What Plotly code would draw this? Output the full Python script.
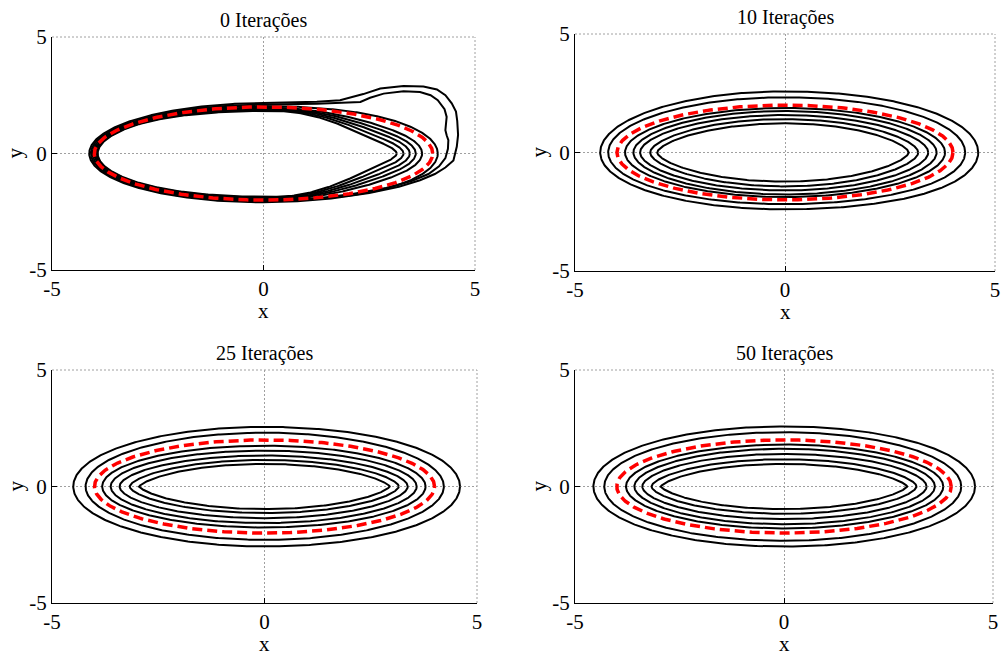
import numpy as np
import plotly.graph_objects as go

W, H = 1002, 657

# ---------------- data ----------------
TITLES = ["0 Iterações", "10 Iterações", "25 Iterações", "50 Iterações"]
TICKS = [-5, 0, 5]

# zero level (red dashed) : ellipse semi-axes
ELL_A, ELL_B = 4.0, 2.0

# Each black contour: right / left / top / bottom crossing of the axes
# panel 0 (initial function)
P0_RIGHT = [3.15, 3.31, 3.46, 3.60, 3.75, 4.12]
P0_LEFT = [-3.92, -3.94, -3.96, -3.98, -4.00, -4.04]
P0_TOP = [1.83, 1.87, 1.90, 1.94, 1.97, 2.04]
P0_BOTTOM = [-1.86, -1.89, -1.92, -1.95, -1.98, -2.04]

# panel 0 : two outer contours with a bump (right half, top -> bottom)
P0_BUMP_OUT_X = [0, 1.26, 1.81, 2.36, 2.76, 3.31, 3.78, 4.10, 4.30, 4.45, 4.55, 4.58, 4.60, 4.57, 4.49, 4.30, 4.05, 3.70, 3.20, 2.50, 1.60, 0.80, 0]
P0_BUMP_OUT_Y = [2.17, 2.22, 2.29, 2.55, 2.79, 2.90, 2.88, 2.75, 2.50, 2.15, 1.80, 1.40, 0.80, 0.30, -0.30, -0.60, -0.88, -1.15, -1.43, -1.70, -1.93, -2.05, -2.09]
P0_BUMP_OUT_LEFT, P0_BUMP_OUT_BOTTOM = -4.12, -2.09

P0_BUMP_IN_X = [0, 1.26, 1.81, 2.29, 2.52, 2.84, 3.31, 3.70, 3.95, 4.12, 4.28, 4.33, 4.30, 4.33, 4.37, 4.36, 4.30, 4.15, 3.90, 3.50, 2.90, 2.10, 1.30, 0.60, 0]
P0_BUMP_IN_Y = [2.10, 2.14, 2.17, 2.21, 2.39, 2.57, 2.67, 2.64, 2.50, 2.29, 1.90, 1.57, 1.00, 0.78, 0.57, 0.20, -0.20, -0.55, -0.88, -1.18, -1.48, -1.74, -1.92, -2.02, -2.06]
P0_BUMP_IN_LEFT, P0_BUMP_IN_BOTTOM = -4.08, -2.06

# panel 10 iterations
P1_RIGHT = [2.94, 3.17, 3.41, 3.61, 3.81, 4.29, 4.60]
P1_LEFT = [-3.04, -3.21, -3.45, -3.61, -3.81, -4.21, -4.40]
P1_TOP = [1.23, 1.41, 1.58, 1.75, 1.88, 2.33, 2.58]
P1_BOTTOM = [-1.23, -1.43, -1.60, -1.77, -1.88, -2.18, -2.40]

# panel 25 iterations
P2_RIGHT = [2.95, 3.16, 3.37, 3.58, 3.79, 4.22, 4.60]
P2_LEFT = [-2.95, -3.17, -3.41, -3.62, -3.82, -4.21, -4.50]
P2_TOP = [0.97, 1.14, 1.33, 1.54, 1.75, 2.31, 2.56]
P2_BOTTOM = [-0.97, -1.14, -1.36, -1.57, -1.76, -2.29, -2.57]

# panel 50 iterations
P3_RIGHT = [2.95, 3.17, 3.41, 3.61, 3.81, 4.24, 4.57]
P3_LEFT = [-2.95, -3.17, -3.39, -3.58, -3.78, -4.30, -4.56]
P3_TOP = [0.97, 1.17, 1.40, 1.62, 1.80, 2.33, 2.58]
P3_BOTTOM = [-0.97, -1.17, -1.40, -1.62, -1.80, -2.33, -2.58]

# ---------------- geometry helpers ----------------
def blend_power(c, p):
    return np.abs(c) ** p


def blend_smooth(c, c0=0.1, c1=0.85):
    u = np.clip((np.abs(c) - c0) / (c1 - c0), 0, 1)
    return 3 * u ** 2 - 2 * u ** 3


def offset_curve(right, left, top, bottom, blend, t0=0.0, t1=2 * np.pi, n=600):
    t = np.linspace(t0, t1, n)
    c, s = np.cos(t), np.sin(t)
    bx, by = ELL_A * c, ELL_B * s
    nx, ny = ELL_B * c, ELL_A * s
    nn = np.hypot(nx, ny)
    nx, ny = nx / nn, ny / nn
    dx = np.where(c >= 0, ELL_A - right, ELL_A + left)
    dy = np.where(s >= 0, ELL_B - top, ELL_B + bottom)
    d = dy + (dx - dy) * blend(c)
    return bx - d * nx, by - d * ny


# ---------------- layout of panels (pixel boxes) ----------------
boxes = [
    (52, 475, 37, 270),
    (575, 995, 34, 271),
    (52, 477, 370, 603),
    (575, 993, 370, 603),
]

fig = go.Figure()
FONT = "Liberation Serif"
BLACK_W = 2.0


def add_line(i, x, y, color="black", width=BLACK_W, dash=None):
    ax = "" if i == 0 else str(i + 1)
    fig.add_trace(go.Scatter(
        x=x, y=y, mode="lines", xaxis="x" + ax, yaxis="y" + ax,
        line=dict(color=color, width=width, dash=dash, shape="linear"),
        hoverinfo="skip", showlegend=False))


# panel 0
for r, l, tp, bt in zip(P0_RIGHT, P0_LEFT, P0_TOP, P0_BOTTOM):
    x, y = offset_curve(r, l, tp, bt, blend_smooth)
    add_line(0, x, y)
for bx_, by_, L, B in [(P0_BUMP_IN_X, P0_BUMP_IN_Y, P0_BUMP_IN_LEFT, P0_BUMP_IN_BOTTOM),
                       (P0_BUMP_OUT_X, P0_BUMP_OUT_Y, P0_BUMP_OUT_LEFT, P0_BUMP_OUT_BOTTOM)]:
    lx, ly = offset_curve(1.0, L, by_[0], B, lambda c: blend_power(c, 1.0),
                          t0=np.pi / 2, t1=3 * np.pi / 2, n=300)
    x = list(lx) + list(bx_[::-1])
    y = list(ly) + list(by_[::-1])
    add_line(0, x, y)

for i, (R, L, T, B) in enumerate([(P1_RIGHT, P1_LEFT, P1_TOP, P1_BOTTOM),
                                  (P2_RIGHT, P2_LEFT, P2_TOP, P2_BOTTOM),
                                  (P3_RIGHT, P3_LEFT, P3_TOP, P3_BOTTOM)], start=1):
    for r, l, tp, bt in zip(R, L, T, B):
        x, y = offset_curve(r, l, tp, bt, lambda c: blend_power(c, 2.0))
        add_line(i, x, y)

# red dashed zero level on each panel
tt = np.linspace(0, 2 * np.pi, 400)
for i in range(4):
    add_line(i, ELL_A * np.cos(tt), ELL_B * np.sin(tt), color="#ff0000", width=3.5, dash="10px,5px")

layout = dict(
    width=W, height=H, margin=dict(l=0, r=0, t=0, b=0, autoexpand=False),
    paper_bgcolor="white", plot_bgcolor="white", showlegend=False,
    font=dict(family=FONT, size=21, color="black"),
)
GRID_COLOR = "#a0a0a0"
GRID_DASH = "2px,2px"
annotations = []
shapes = []
for i, (x0, x1, y0, y1) in enumerate(boxes):
    ax = "" if i == 0 else str(i + 1)
    common = dict(
        range=[-5, 5], tickmode="array", tickvals=TICKS, ticktext=[str(v) for v in TICKS],
        ticks="inside", ticklen=5, tickcolor="black", tickwidth=1,
        showline=True, linecolor="black", linewidth=1, mirror=False,
        showgrid=True, gridcolor=GRID_COLOR, griddash=GRID_DASH, gridwidth=1,
        zeroline=False, fixedrange=True, automargin=False,
        tickfont=dict(family=FONT, size=21, color="black"),
    )
    layout["xaxis" + ax] = dict(common, domain=[x0 / W, x1 / W], anchor="y" + ax)
    layout["yaxis" + ax] = dict(common, domain=[1 - y1 / H, 1 - y0 / H], anchor="x" + ax)
    cx = (x0 + x1) / 2
    annotations.append(dict(
        text=TITLES[i], xref="paper", yref="paper",
        x=cx / W, y=1 - (y0 - 3) / H, xanchor="center", yanchor="bottom",
        showarrow=False, font=dict(family=FONT, size=20, color="black")))
    # axis titles
    annotations.append(dict(
        text="x", xref="paper", yref="paper", x=cx / W, y=1 - (y1 + 41) / H,
        xanchor="center", yanchor="middle", showarrow=False,
        font=dict(family=FONT, size=21, color="black")))
    annotations.append(dict(
        text="y", xref="paper", yref="paper", x=(x0 - 37) / W, y=1 - ((y0 + y1) / 2) / H,
        xanchor="center", yanchor="middle", showarrow=False, textangle=-90,
        font=dict(family=FONT, size=21, color="black")))
    # grid lines at the upper / right tick (edge of the box), dotted like the grid
    grid_line = dict(color=GRID_COLOR, width=1, dash=GRID_DASH)
    shapes.append(dict(type="line", xref="x" + ax + " domain", yref="y" + ax + " domain",
                       x0=0, x1=1, y0=1, y1=1, line=grid_line, layer="below"))
    shapes.append(dict(type="line", xref="x" + ax + " domain", yref="y" + ax + " domain",
                       x0=1, x1=1, y0=0, y1=1, line=grid_line, layer="below"))
layout["annotations"] = annotations
layout["shapes"] = shapes
fig.update_layout(**layout)

fig.write_html("out.html", config={"displayModeBar": False},
               post_script="document.body.style.margin='0px';document.body.style.overflow='hidden';")
